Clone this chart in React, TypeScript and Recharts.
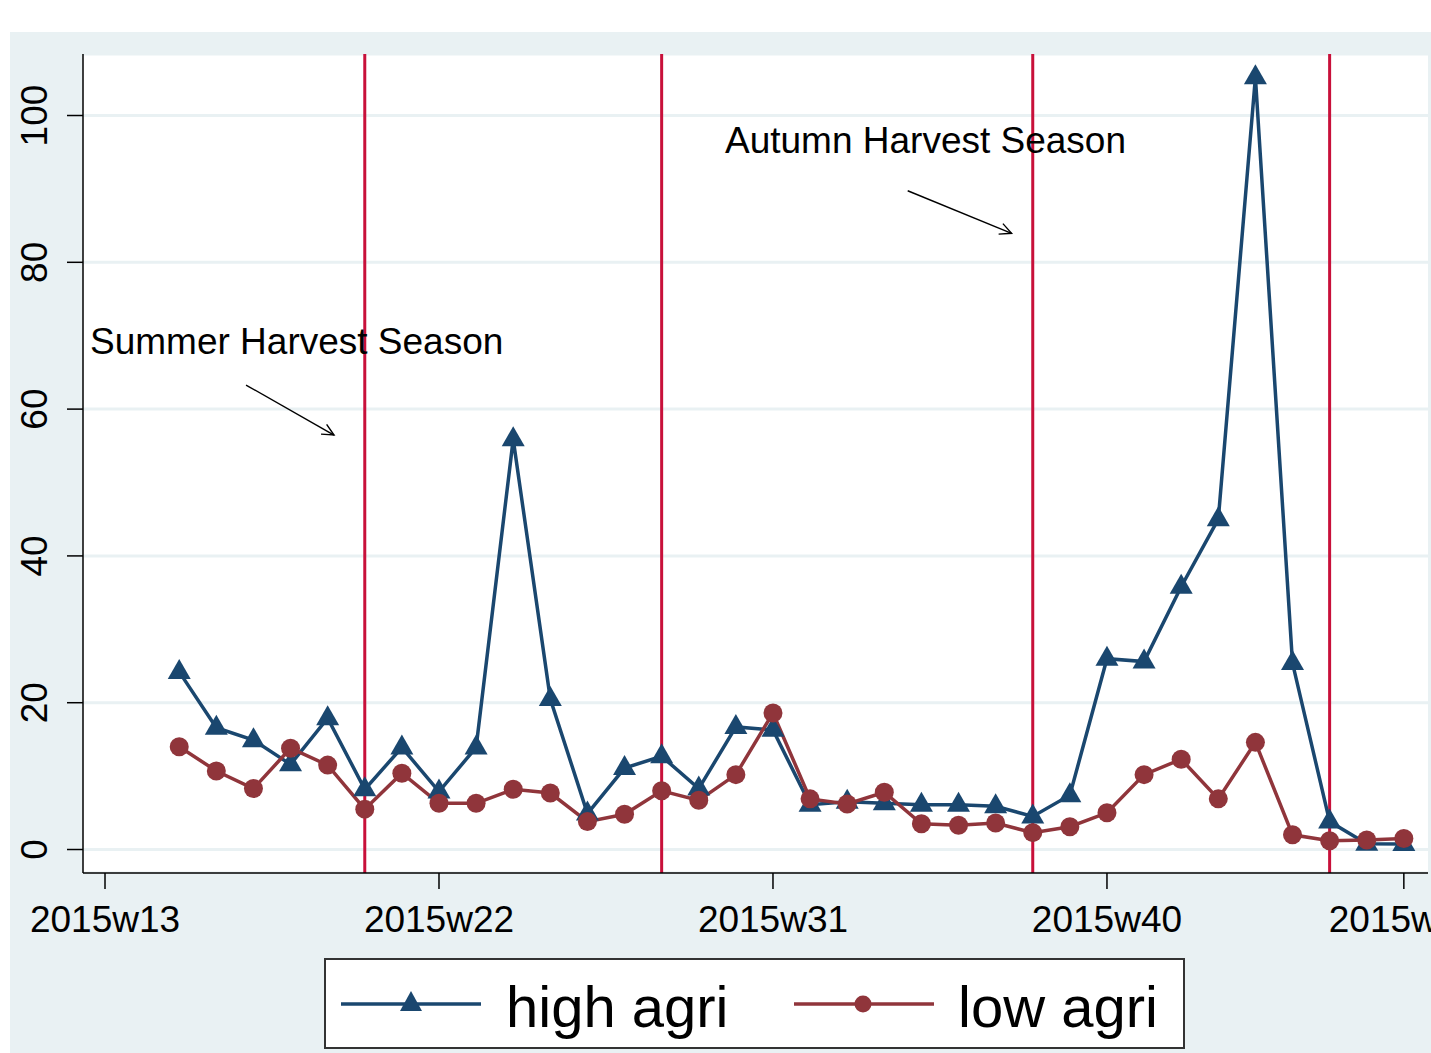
import React from "react";
import {
  LineChart,
  Line,
  XAxis,
  YAxis,
  CartesianGrid,
  ReferenceLine,
  ReferenceDot,
} from "recharts";

// ---- data ----
const weeks = [15, 16, 17, 18, 19, 20, 21, 22, 23, 24, 25, 26, 27, 28, 29, 30, 31, 32, 33, 34, 35, 36, 37, 38, 39, 40, 41, 42, 43, 44, 45, 46, 47, 48];
const highAgri = [24.2, 16.6, 14.9, 11.6, 17.9, 8.2, 13.9, 7.9, 13.9, 55.9, 20.5, 4.9, 11.1, 12.7, 8.3, 16.7, 16.3, 6.1, 6.5, 6.3, 6.1, 6.1, 5.9, 4.5, 7.4, 26.0, 25.6, 35.8, 45.0, 105.2, 25.4, 3.8, 0.8, 0.75];
const lowAgri = [14.0, 10.7, 8.3, 13.8, 11.5, 5.5, 10.4, 6.3, 6.3, 8.2, 7.7, 3.8, 4.8, 8.0, 6.7, 10.2, 18.6, 6.9, 6.2, 7.8, 3.5, 3.3, 3.6, 2.3, 3.1, 5.0, 10.2, 12.3, 6.9, 14.6, 2.0, 1.2, 1.3, 1.5];
const seriesNames = ["high agri", "low agri"];
const xTicks = [13, 22, 31, 40, 48];
const yTicks = [0, 20, 40, 60, 80, 100];
const seasonLines = [20, 28, 38, 46];
const annotations = [
  { text: "Summer Harvest Season", x: 12.596, y: 67.5 },
  { text: "Autumn Harvest Season", x: 29.707, y: 94.93 },
];
const arrows = [
  { x1: 16.8, y1: 63.28, x2: 19.171, y2: 56.47 },
  { x1: 34.63, y1: 89.75, x2: 37.43, y2: 83.95 },
];

const data = weeks.map((w, i) => ({ week: w, high: highAgri[i], low: lowAgri[i] }));

const NAVY = "#1A476F";
const MAROON = "#90353B";
const RED = "#C8103A";
const BG = "#E9F1F3";
const FONT = "'Liberation Sans', Arial, sans-serif";

const Tri = (p: any) => {
  const { cx, cy } = p;
  if (cx == null || cy == null) return <g key={p.key ?? p.index} />;
  return (
    <polygon
      key={p.key ?? p.index}
      points={`${cx},${cy - 13} ${cx - 11.5},${cy + 7} ${cx + 11.5},${cy + 7}`}
      fill={NAVY}
    />
  );
};

const Circ = (p: any) => {
  const { cx, cy } = p;
  if (cx == null || cy == null) return <g key={p.key ?? p.index} />;
  return <circle key={p.key ?? p.index} cx={cx} cy={cy} r={9.5} fill={MAROON} />;
};

const XTick = (p: any) => {
  const { x, y, payload } = p;
  return (
    <text x={x} y={y + 41} textAnchor="middle" fontSize={37} fontFamily={FONT} fill="#000">
      {`2015w${payload.value}`}
    </text>
  );
};

const YTick = (p: any) => {
  const { y, payload } = p;
  const cx = 35;
  return (
    <text
      x={cx}
      y={y}
      transform={`rotate(-90, ${cx}, ${y})`}
      textAnchor="middle"
      dominantBaseline="central"
      fontSize={37}
      fontFamily={FONT}
      fill="#000"
    >
      {payload.value}
    </text>
  );
};

const ArrowShape = (p: any) => {
  const { x1, y1, x2, y2 } = p;
  if ([x1, y1, x2, y2].some((v) => v == null || isNaN(v))) return <g />;
  const ang = Math.atan2(y2 - y1, x2 - x1);
  const len = 13;
  const spread = 0.45;
  const ax = x2 - len * Math.cos(ang - spread);
  const ay = y2 - len * Math.sin(ang - spread);
  const bx = x2 - len * Math.cos(ang + spread);
  const by = y2 - len * Math.sin(ang + spread);
  return (
    <g>
      <line x1={x1} y1={y1} x2={x2} y2={y2} stroke="#000" strokeWidth={1.4} />
      <polyline points={`${ax},${ay} ${x2},${y2} ${bx},${by}`} fill="none" stroke="#000" strokeWidth={1.4} />
    </g>
  );
};

const makeTextShape = (text: string) => (p: any) => {
  const { cx, cy } = p;
  if (cx == null || cy == null) return <g />;
  return (
    <text x={cx} y={cy} fontSize={37} fontFamily={FONT} fill="#000">
      {text}
    </text>
  );
};

const LegendBox = () => (
  <div
    style={{
      position: "absolute",
      left: 324,
      top: 958,
      width: 861,
      height: 91,
      boxSizing: "border-box",
      border: "2px solid #333",
      background: "#fff",
    }}
  >
    <svg width={857} height={87} style={{ position: "absolute", left: 0, top: 0 }}>
      <line x1={15} y1={44} x2={155} y2={44} stroke={NAVY} strokeWidth={3.5} />
      <polygon points={`85,31 74,51 96,51`} fill={NAVY} />
      <text x={180} y={67} fontSize={58} fontFamily={FONT} fill="#000">
        {seriesNames[0]}
      </text>
      <line x1={468} y1={44} x2={608} y2={44} stroke={MAROON} strokeWidth={3.5} />
      <circle cx={537} cy={44} r={8.5} fill={MAROON} />
      <text x={632} y={67} fontSize={58} fontFamily={FONT} fill="#000">
        {seriesNames[1]}
      </text>
    </svg>
  </div>
);

export default function App() {
  return (
    <div
      style={{
        position: "absolute",
        left: 0,
        top: 0,
        width: 1431,
        height: 1053,
        overflow: "hidden",
        background: "#fff",
      }}
    >
      <div style={{ position: "absolute", left: 10, top: 32, width: 1421, height: 1021, background: BG }} />
      <div style={{ position: "absolute", left: 0, top: 0 }}>
        <LineChart
          width={1431}
          height={1053}
          data={data}
          margin={{ top: 54, right: 3, bottom: 0, left: 0 }}
        >
          <CartesianGrid vertical={false} stroke={BG} strokeWidth={3} fill="#fff" />
          <XAxis
            type="number"
            dataKey="week"
            domain={[12.407, 48.651]}
            ticks={xTicks}
            interval={0}
            allowDataOverflow
            height={180}
            tickSize={16}
            tick={<XTick />}
            axisLine={{ stroke: "#000", strokeWidth: 1.5 }}
            tickLine={{ stroke: "#000", strokeWidth: 1.5 }}
          />
          <YAxis
            type="number"
            domain={[-3.2, 108.38]}
            ticks={yTicks}
            interval={0}
            allowDataOverflow
            width={83}
            tickSize={16}
            tick={<YTick />}
            axisLine={{ stroke: "#000", strokeWidth: 1.5 }}
            tickLine={{ stroke: "#000", strokeWidth: 1.5 }}
          />
          {seasonLines.map((w) => (
            <ReferenceLine key={`s${w}`} x={w} stroke={RED} strokeWidth={3} zIndex={-50} />
          ))}
          <Line
            dataKey="high"
            name={seriesNames[0]}
            stroke={NAVY}
            strokeWidth={3.5}
            dot={Tri}
            activeDot={false}
            isAnimationActive={false}
          />
          <Line
            dataKey="low"
            name={seriesNames[1]}
            stroke={MAROON}
            strokeWidth={3.5}
            dot={Circ}
            activeDot={false}
            isAnimationActive={false}
          />
          {arrows.map((a, i) => (
            <ReferenceLine
              key={`a${i}`}
              segment={[
                { x: a.x1, y: a.y1 },
                { x: a.x2, y: a.y2 },
              ]}
              shape={ArrowShape}
            />
          ))}
          {annotations.map((a, i) => (
            <ReferenceDot key={`t${i}`} x={a.x} y={a.y} r={0} shape={makeTextShape(a.text)} />
          ))}
        </LineChart>
      </div>
      <LegendBox />
    </div>
  );
}
